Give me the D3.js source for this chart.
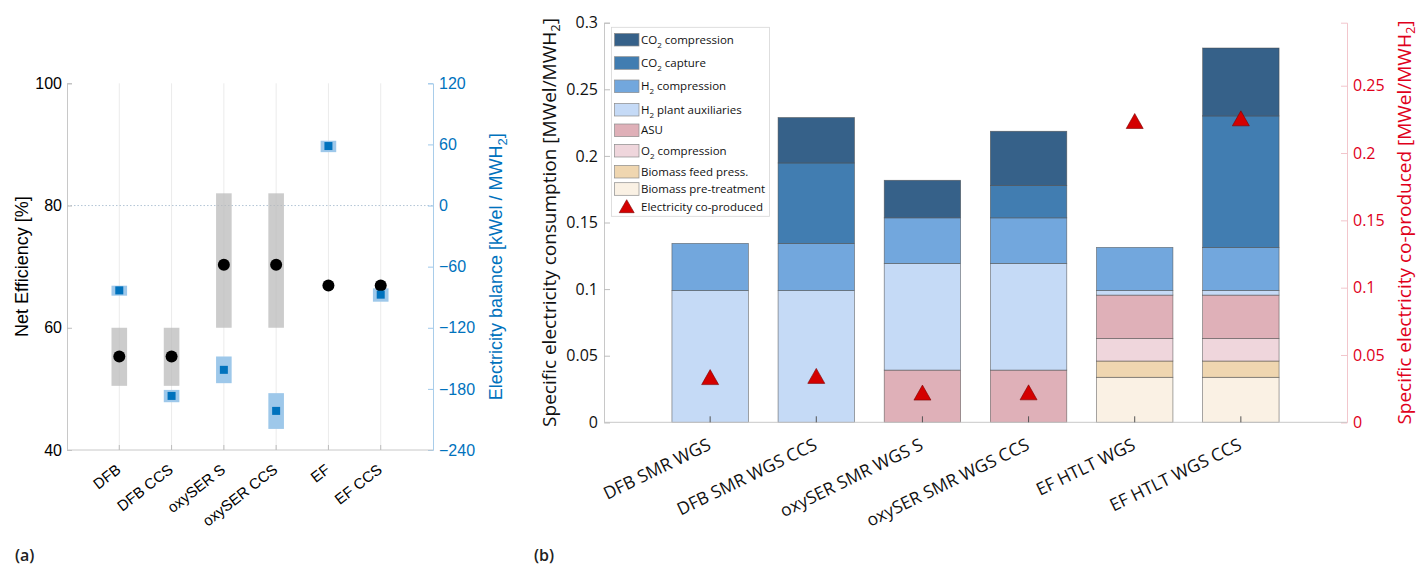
<!DOCTYPE html>
<html>
<head>
<meta charset="utf-8">
<script src="https://cdn.jsdelivr.net/npm/d3@7"></script>
<style>
body { margin: 0; background: #fff; }
text { font-family: "Open Sans", "Noto Sans", sans-serif; }
.pa text { font-family: "Liberation Sans", Arial, sans-serif; }
</style>
</head>
<body>
<svg id="chart" width="1420" height="569"></svg>
<script>
// ---- data, panel (a)
var effCats = ["DFB", "DFB CCS", "oxySER S", "oxySER CCS", "EF", "EF CCS"];
var effValue = [55.3, 55.3, 70.3, 70.3, 66.9, 66.9];
var effLow = [50.5, 50.5, 60, 60, null, null];
var effHigh = [60, 60, 82, 82, null, null];
var balValue = [-83.3, -186.9, -161.3, -201.6, 58.4, -87.5];
var balLow = [-88.5, -193.1, -174.4, -219.3, 52.4, -94.4];
var balHigh = [-78.7, -181, -148.2, -184.2, 63.6, -81.3];
var effTicks = [40, 60, 80, 100];
var balTicks = [-240, -180, -120, -60, 0, 60, 120];

// ---- data, panel (b)
var procCats = ["DFB SMR WGS", "DFB SMR WGS CCS", "oxySER SMR WGS S", "oxySER SMR WGS CCS", "EF HTLT WGS", "EF HTLT WGS CCS"];
var pretreat   = [0, 0, 0, 0, 0.0338, 0.0338];
var feedPress  = [0, 0, 0, 0, 0.0122, 0.0122];
var o2Comp     = [0, 0, 0, 0, 0.0170, 0.0170];
var asu        = [0, 0, 0.0392, 0.0392, 0.0325, 0.0325];
var h2Aux      = [0.0990, 0.0990, 0.0801, 0.0801, 0.0035, 0.0035];
var h2Comp     = [0.0353, 0.0353, 0.0342, 0.0342, 0.0323, 0.0323];
var co2Capture = [0, 0.0604, 0, 0.0243, 0, 0.0987];
var co2Comp    = [0, 0.0341, 0.0282, 0.0407, 0, 0.0510];
var coProduced = [0.0332, 0.0341, 0.0217, 0.0219, 0.2234, 0.2254];
var consTicks = [0, 0.05, 0.1, 0.15, 0.2, 0.25, 0.3];
var prodTicks = [0, 0.05, 0.1, 0.15, 0.2, 0.25];

// stack order bottom -> top, with legend names (legend is listed top -> bottom)
var keys = ["pretreat", "feedPress", "o2Comp", "asu", "h2Aux", "h2Comp", "co2Capture", "co2Comp"];
var names = {
  co2Comp: ["CO", "2", " compression"], co2Capture: ["CO", "2", " capture"],
  h2Comp: ["H", "2", " compression"], h2Aux: ["H", "2", " plant auxiliaries"],
  asu: ["ASU"], o2Comp: ["O", "2", " compression"],
  feedPress: ["Biomass feed press."], pretreat: ["Biomass pre-treatment"]
};
var colors = {
  co2Comp: "#366189", co2Capture: "#417db1", h2Comp: "#72a7dd", h2Aux: "#c5daf6",
  asu: "#dfb0b8", o2Comp: "#efd6dc", feedPress: "#efd6b0", pretreat: "#faf1e4"
};
var blue = "#0072bd", red = "#e0001b";

var svg = d3.select("#chart");

// =================== panel (a) ===================
var ga = svg.append("g").attr("class", "pa");
var xA = d3.scaleLinear().domain([0, 7]).range([67, 433]);
var yA = d3.scaleLinear().domain([40, 100]).range([450, 83.3]);
var yBal = d3.scaleLinear().domain([-240, 120]).range([450, 83.3]);

// vertical grid at categories
ga.selectAll("line.grid").data(effCats).enter().append("line")
  .attr("x1", function(d, i){ return xA(i + 1); }).attr("x2", function(d, i){ return xA(i + 1); })
  .attr("y1", yA(40)).attr("y2", yA(100))
  .attr("stroke", "#ebebeb").attr("stroke-width", 1);

// zero balance reference line
ga.append("line").attr("x1", xA(0)).attr("x2", xA(7))
  .attr("y1", yBal(0)).attr("y2", yBal(0))
  .attr("stroke", "#9fb6cc").attr("stroke-width", 0.8).attr("stroke-dasharray", "1.5,2");

var halfA = 7.8;
// efficiency range bars
ga.selectAll("rect.effr").data(effCats.map(function(c, i){ return i; }).filter(function(i){ return effLow[i] !== null; }))
  .enter().append("rect")
  .attr("x", function(i){ return xA(i + 1) - halfA; }).attr("width", 2 * halfA)
  .attr("y", function(i){ return yA(effHigh[i]); })
  .attr("height", function(i){ return yA(effLow[i]) - yA(effHigh[i]); })
  .attr("fill", "#b8b8b8").attr("fill-opacity", 0.72);

// balance range bands
ga.selectAll("rect.balr").data(effCats).enter().append("rect")
  .attr("x", function(d, i){ return xA(i + 1) - halfA; }).attr("width", 2 * halfA)
  .attr("y", function(d, i){ return yBal(balHigh[i]); })
  .attr("height", function(d, i){ return yBal(balLow[i]) - yBal(balHigh[i]); })
  .attr("fill", "#9ec8ea");

// efficiency dots
ga.selectAll("circle.eff").data(effValue).enter().append("circle")
  .attr("cx", function(d, i){ return xA(i + 1); }).attr("cy", function(d){ return yA(d); })
  .attr("r", 6).attr("fill", "#000");

// balance squares
ga.selectAll("rect.bal").data(balValue).enter().append("rect")
  .attr("x", function(d, i){ return xA(i + 1) - 4; }).attr("y", function(d){ return yBal(d) - 4; })
  .attr("width", 8).attr("height", 8).attr("fill", blue);

// axes
var axA = ga.append("g").attr("transform", "translate(" + xA(0) + ",0)")
  .call(d3.axisLeft(yA).tickValues(effTicks).tickSize(-5).tickPadding(5));
axA.selectAll("text").attr("font-size", 16).attr("fill", "#000").style("font-family", "Liberation Sans, Arial, sans-serif");
axA.selectAll("line").attr("stroke", "#bdbdbd");
axA.select(".domain").attr("stroke", "#c8c8c8");

var axBal = ga.append("g").attr("transform", "translate(" + xA(7) + ",0)")
  .call(d3.axisRight(yBal).tickValues(balTicks).tickSize(-5).tickPadding(6));
axBal.selectAll("text").attr("font-size", 16).attr("fill", blue).style("font-family", "Liberation Sans, Arial, sans-serif");
axBal.selectAll("line").attr("stroke", "#9ec8ea");
axBal.select(".domain").attr("stroke", "#a9cdea");

ga.append("line").attr("x1", xA(0)).attr("x2", xA(7)).attr("y1", yA(40)).attr("y2", yA(40))
  .attr("stroke", "#c8c8c8");
ga.selectAll("line.xt").data(effCats).enter().append("line")
  .attr("x1", function(d, i){ return xA(i + 1); }).attr("x2", function(d, i){ return xA(i + 1); })
  .attr("y1", yA(40)).attr("y2", yA(40) - 5).attr("stroke", "#bdbdbd");

ga.selectAll("text.xl").data(effCats).enter().append("text")
  .attr("transform", function(d, i){ return "translate(" + (xA(i + 1) + 2.5) + "," + (yA(40) + 21.5) + ") rotate(-38)"; })
  .attr("text-anchor", "end").attr("font-size", 15).attr("fill", "#000")
  .text(function(d){ return d; });

ga.append("text").attr("transform", "translate(28," + yA(70) + ") rotate(-90)")
  .attr("text-anchor", "middle").attr("font-size", 18).attr("fill", "#000")
  .text("Net Efficiency [%]");

var balLab = ga.append("text").attr("transform", "translate(502," + yA(70) + ") rotate(-90)")
  .attr("text-anchor", "middle").attr("font-size", 18).attr("fill", blue);
balLab.append("tspan").text("Electricity balance [kWel / MWH");
balLab.append("tspan").attr("dy", 5).attr("font-size", 13).text("2");
balLab.append("tspan").attr("dy", -5).text("]");

svg.append("text").attr("x", 15).attr("y", 561).attr("font-size", 16).attr("font-weight", 600)
  .attr("fill", "#222").text("(a)");

// =================== panel (b) ===================
var gb = svg.append("g");
var xB = d3.scaleLinear().domain([0, 7]).range([604, 1347]);
var yC = d3.scaleLinear().domain([0, 0.3]).range([422.3, 22.7]);
var yP = d3.scaleLinear().domain([0, 0.2968]).range([422.3, 22.7]);
var barW = 0.72;

var rows = procCats.map(function(c, i){
  return { cat: c, idx: i, pretreat: pretreat[i], feedPress: feedPress[i], o2Comp: o2Comp[i], asu: asu[i],
           h2Aux: h2Aux[i], h2Comp: h2Comp[i], co2Capture: co2Capture[i], co2Comp: co2Comp[i] };
});
var series = d3.stack().keys(keys)(rows);

gb.selectAll("g.layer").data(series).enter().append("g")
  .attr("fill", function(s){ return colors[s.key]; })
  .selectAll("rect").data(function(s){ return s.filter(function(p){ return p[1] - p[0] > 0; }); })
  .enter().append("rect")
  .attr("x", function(p){ return xB(p.data.idx + 1 - barW / 2); })
  .attr("width", xB(barW) - xB(0))
  .attr("y", function(p){ return yC(p[1]); })
  .attr("height", function(p){ return yC(p[0]) - yC(p[1]); })
  .attr("stroke", "#4a4a4a").attr("stroke-opacity", 0.7).attr("stroke-width", 0.7);

// axes b
var axC = gb.append("g").attr("transform", "translate(" + xB(0) + ",0)")
  .call(d3.axisLeft(yC).tickValues(consTicks).tickSize(-6).tickPadding(6).tickFormat(d3.format("~g")));
axC.selectAll("text").attr("font-size", 16).attr("fill", "#111");
axC.selectAll("line").attr("stroke", "#bdbdbd");
axC.select(".domain").attr("stroke", "#c8c8c8");

var axP = gb.append("g").attr("transform", "translate(" + xB(7) + ",0)")
  .call(d3.axisRight(yP).tickValues(prodTicks).tickSize(-6).tickPadding(6).tickFormat(d3.format("~g")));
axP.selectAll("text").attr("font-size", 16).attr("fill", red);
axP.selectAll("line").attr("stroke", "#f2c6cc");
axP.select(".domain").attr("stroke", "#f2c6cc");

gb.append("line").attr("x1", xB(0)).attr("x2", xB(7)).attr("y1", yC(0)).attr("y2", yC(0))
  .attr("stroke", "#c8c8c8");
gb.selectAll("line.xt").data(procCats).enter().append("line")
  .attr("x1", function(d, i){ return xB(i + 1); }).attr("x2", function(d, i){ return xB(i + 1); })
  .attr("y1", yC(0)).attr("y2", yC(0) - 6).attr("stroke", "#555");

// co-produced electricity triangles
var tri = "M0,-8L8.5,7L-8.5,7Z";
gb.selectAll("path.cop").data(coProduced).enter().append("path")
  .attr("d", tri)
  .attr("transform", function(d, i){ return "translate(" + xB(i + 1) + "," + yP(d) + ")"; })
  .attr("fill", "#d40000").attr("stroke", "#7a0000").attr("stroke-width", 0.6);

gb.selectAll("text.xl").data(procCats).enter().append("text")
  .attr("transform", function(d, i){ return "translate(" + (xB(i + 1) + 2) + "," + (yC(0) + 26.5) + ") rotate(-26)"; })
  .attr("text-anchor", "end").attr("font-size", 17.5).attr("fill", "#111")
  .text(function(d){ return d; });

var consLab = gb.append("text").attr("transform", "translate(556," + yC(0.15) + ") rotate(-90)")
  .attr("text-anchor", "middle").attr("font-size", 19).attr("fill", "#111");
consLab.append("tspan").text("Specific electricity consumption [MWel/MWH");
consLab.append("tspan").attr("dy", 4).attr("font-size", 13).text("2");
consLab.append("tspan").attr("dy", -4).text("]");

var prodLab = gb.append("text").attr("transform", "translate(1411," + yC(0.15) + ") rotate(-90)")
  .attr("text-anchor", "middle").attr("font-size", 19).attr("fill", red);
prodLab.append("tspan").text("Specific electricity co-produced [MWel/MWH");
prodLab.append("tspan").attr("dy", 4).attr("font-size", 13).text("2");
prodLab.append("tspan").attr("dy", -4).text("]");

// legend
var legendKeys = keys.slice().reverse();
var legendY = [39.7, 63, 86.3, 109.7, 130.3, 150.7, 171.7, 189, 206.7];
var lg = gb.append("g");
lg.append("rect").attr("x", 611.5).attr("y", 27.3).attr("width", 158).attr("height", 189)
  .attr("fill", "#fff").attr("stroke", "#d6d6d6").attr("stroke-width", 0.8);
legendKeys.forEach(function(k, j){
  var cy = legendY[j];
  lg.append("rect").attr("x", 614.5).attr("y", cy - 6.3).attr("width", 24.5).attr("height", 12.6)
    .attr("fill", colors[k]).attr("stroke", "#8c8c8c").attr("stroke-width", 0.7);
  var t = lg.append("text").attr("x", 641).attr("y", cy + 4).attr("font-size", 11.5).attr("fill", "#111");
  var n = names[k];
  t.append("tspan").text(n[0]);
  if (n.length > 1) {
    t.append("tspan").attr("dy", 4).attr("font-size", 8).text(n[1]);
    t.append("tspan").attr("dy", -4).text(n[2]);
  }
});
lg.append("path").attr("d", "M0,-7L7.5,6L-7.5,6Z")
  .attr("transform", "translate(626.7," + legendY[8] + ")")
  .attr("fill", "#d40000").attr("stroke", "#7a0000").attr("stroke-width", 0.6);
lg.append("text").attr("x", 641).attr("y", legendY[8] + 4).attr("font-size", 11.5).attr("fill", "#111")
  .text("Electricity co-produced");

svg.append("text").attr("x", 534).attr("y", 561).attr("font-size", 16).attr("font-weight", 600)
  .attr("fill", "#222").text("(b)");
</script>
</body>
</html>
